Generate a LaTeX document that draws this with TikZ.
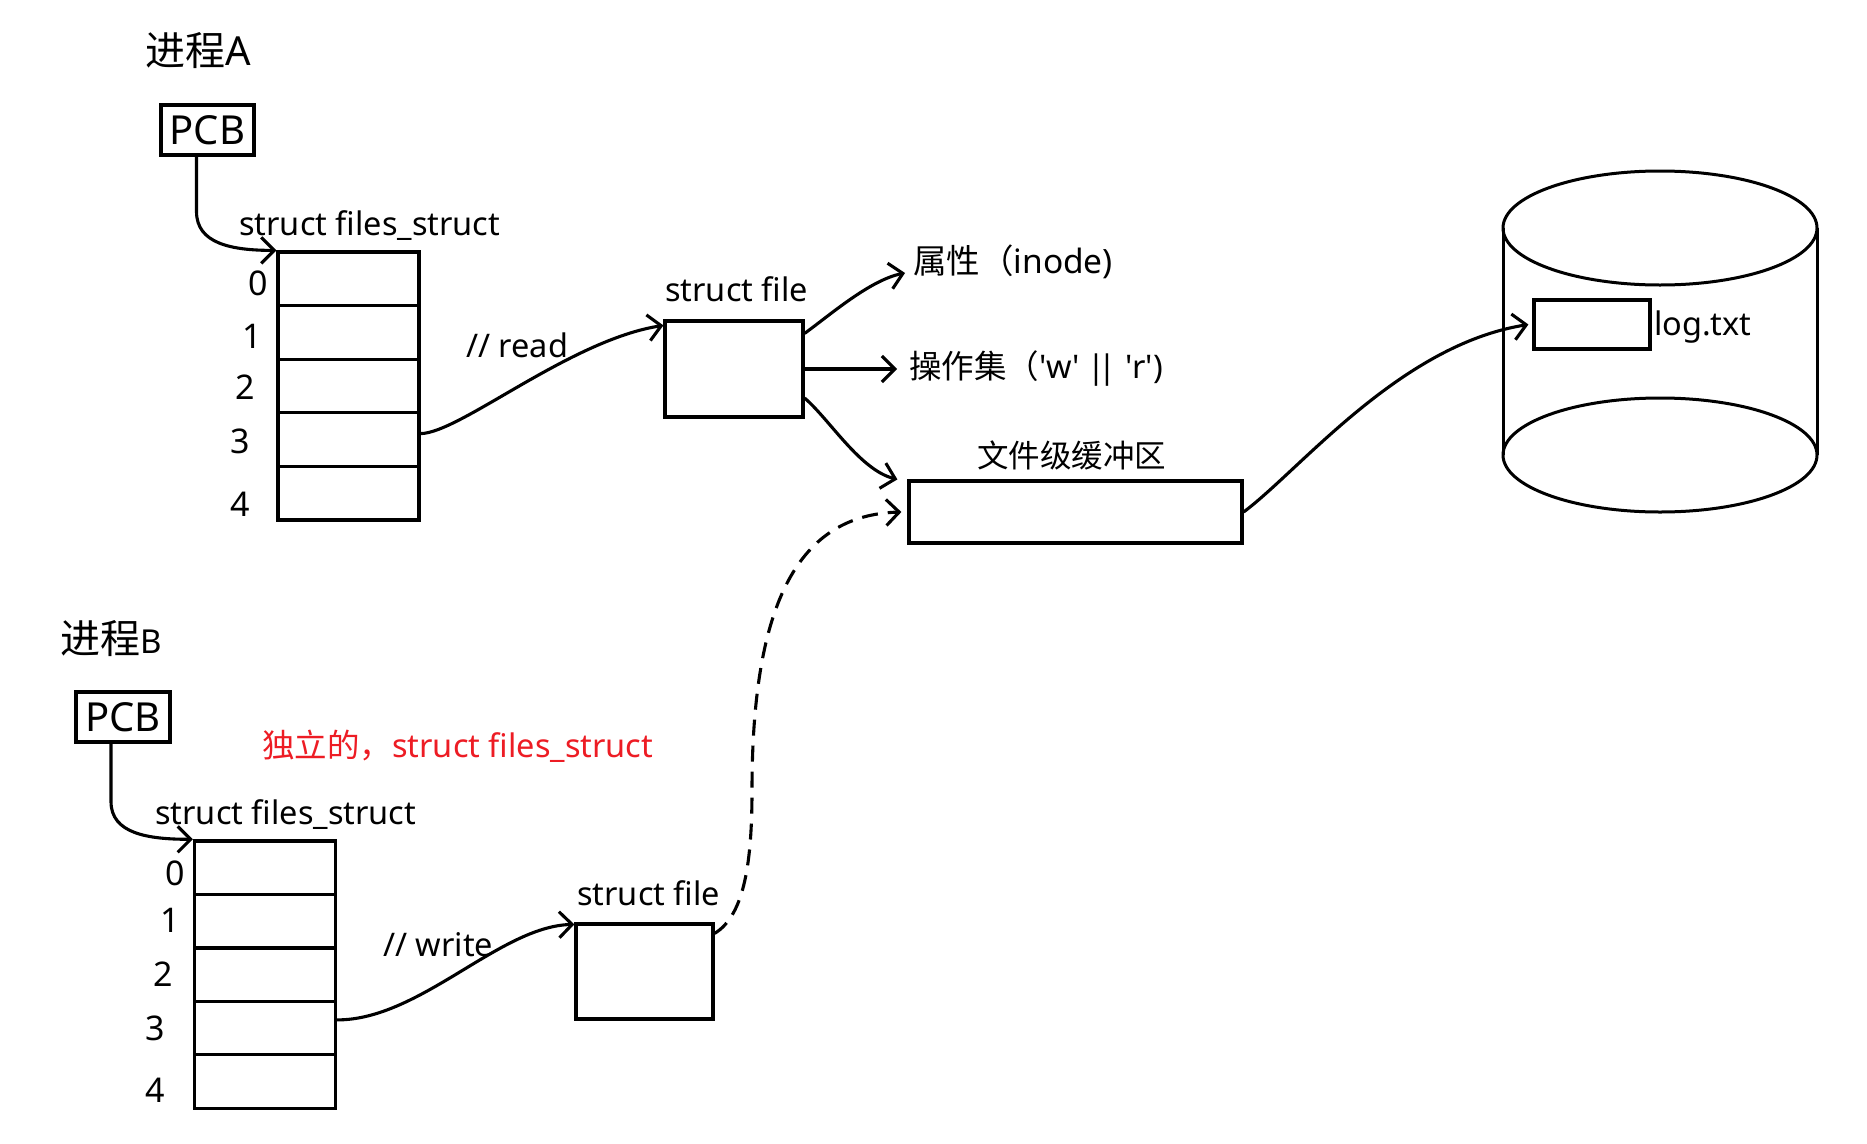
\documentclass[tikz,border=0pt]{standalone}
\usepackage{fontspec}
\setmainfont{Noto Sans}
\newfontfamily\cjk{Noto Sans CJK SC}
\usetikzlibrary{arrows.meta}
\definecolor{notered}{RGB}{237,28,36}
\tikzset{
  boxline/.style={draw, line width=3.2pt},
  fbox/.style={boxline, inner sep=0pt},
  cell/.style={boxline, inner sep=0pt, minimum width=141pt, minimum height=53.6pt},
  txt/.style={inner sep=0pt, anchor=base west, font=\fontsize{32.5}{38}\selectfont},
  digit/.style={inner sep=0pt, font=\fontsize{34}{40}\selectfont},
  link/.style={line width=3.1pt, -{Straight Barb[length=13pt,width=26pt]}},
}

\begin{document}
\begin{tikzpicture}[x=1pt, y=-1pt]
\useasboundingbox (0,0) rectangle (1867,1143);

% process A
\node[txt, font=\fontsize{40}{46}\selectfont] (procA) at (145,65) {{\cjk 进程}A};
\node[fbox, minimum width=93pt, minimum height=50pt, font=\fontsize{40}{46}\selectfont] (pcbA) at (207.5,130) {PCB};
\node[txt] (filesA) at (239,235) {struct files\_struct};

\node[cell] (a0) at (348.5,278.8) {};
\node[cell] (a1) at (348.5,332.4) {};
\node[cell] (a2) at (348.5,386.0) {};
\node[cell] (a3) at (348.5,439.6) {};
\node[cell] (a4) at (348.5,493.2) {};

\node[digit] (na0) at (258,283) {0};
\node[digit] (na1) at (252,336) {1};
\node[digit] (na2) at (245,387) {2};
\node[digit] (na3) at (240,441) {3};
\node[digit] (na4) at (240,504) {4};

\node[fbox, minimum width=138pt, minimum height=96pt] (fileA) at (734,369) {};
\node[txt] (fileAlbl) at (665,301) {struct file};
\node[txt] (readlbl) at (466,357) {// read};

\node[txt, font=\fontsize{33.5}{39}\selectfont] (attr) at (913,273) {{\cjk 属性（}inode)};
\node[txt] (ops) at (909,378) {{\cjk 操作集（}\textquotesingle w\textquotesingle{} |\kern-7pt| \textquotesingle r\textquotesingle)};

% buffer
\node[fbox, minimum width=333pt, minimum height=62pt] (buf) at (1075.5,512) {};
\node[txt, font=\cjk\fontsize{31.5}{36}\selectfont] (buflbl) at (977,467) {文件级缓冲区};

% disk
\draw[line width=3pt] (1660,228) ellipse [x radius=157, y radius=57];
\draw[line width=3pt] (1660,455) ellipse [x radius=157, y radius=57];
\draw[line width=3pt] (1503,228) -- (1503,455) (1817,228) -- (1817,455);
\node[fbox, minimum width=116pt, minimum height=49pt] (log) at (1592,324.5) {};
\node[txt] (loglbl) at (1654,335) {log.txt};

% process B
\node[txt, font=\fontsize{40}{46}\selectfont] (procB) at (60,653) {{\cjk 进程}{\fontsize{33}{38}\selectfont B}};
\node[fbox, minimum width=94pt, minimum height=50pt, font=\fontsize{40}{46}\selectfont] (pcbB) at (123,717) {PCB};
\node[txt, text=notered] (note) at (262,757) {{\cjk 独立的，}struct files\_struct};
\node[txt] (filesB) at (155,824) {struct files\_struct};

\node[cell] (b0) at (265,867.7) {};
\node[cell] (b1) at (265,921.1) {};
\node[cell] (b2) at (265,974.5) {};
\node[cell] (b3) at (265,1027.9) {};
\node[cell] (b4) at (265,1081.3) {};

\node[digit] (nb0) at (175,873) {0};
\node[digit] (nb1) at (170,920) {1};
\node[digit] (nb2) at (163,974) {2};
\node[digit] (nb3) at (155,1028) {3};
\node[digit] (nb4) at (155,1090) {4};

\node[fbox, minimum width=137pt, minimum height=95pt] (fileB) at (644.5,971.5) {};
\node[txt] (fileBlbl) at (577,905) {struct file};
\node[txt] (writelbl) at (383,956) {// write};

% connectors
\draw[link] ([xshift=-11pt]pcbA.south) -- ++(0,55) .. controls +(0,32) and +(-45,0) .. (a0.north west);
\draw[link] ([xshift=-12pt]pcbB.south) -- ++(0,58) .. controls +(0,32) and +(-45,0) .. (b0.north west);
\draw[link] ([yshift=6pt]a3.east) .. controls (460,433) and (570,340) .. ([yshift=-6pt]fileA.north west);
\draw[link] ([yshift=8pt]b3.east) .. controls (420,1020) and (500,926) .. ([yshift=-2pt]fileB.north west);
\draw[link] ([yshift=-14pt]fileA.north east) .. controls (830,315) and (870,280) .. ([xshift=-8pt]attr.base west);
\draw[link] (fileA.east) -- ([xshift=-12pt]fileA.east -| ops.west);
\draw[link] ([yshift=-29pt]fileA.east) .. controls (830,420) and (860,470) .. ([xshift=-10pt]buf.north west);
\draw[link, dash pattern=on 16pt off 10pt] ([yshift=-11pt]fileB.north east) .. controls (745,915) and (752,860) .. (752,790) .. controls (752,600) and (800,515) .. ([xshift=-6pt]buf.west);
\draw[link] (buf.east) .. controls (1300,470) and (1400,345) .. ([xshift=-4pt]log.west);
\end{tikzpicture}
\end{document}
